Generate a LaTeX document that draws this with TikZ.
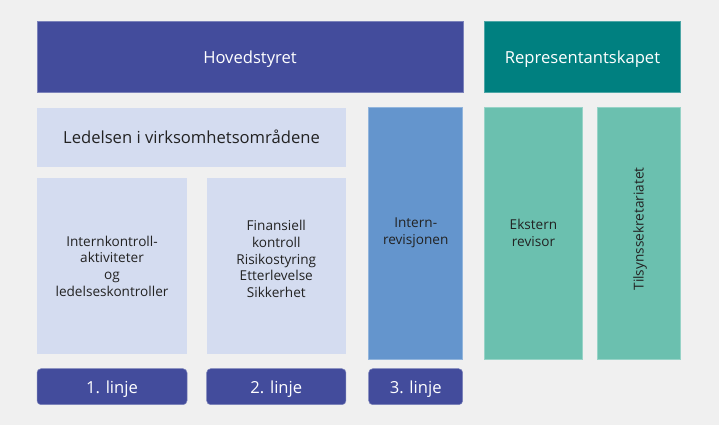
\documentclass[tikz,border=0pt]{standalone}
\usepackage{fontspec}
\setmainfont{Open Sans}
\definecolor{bg}{HTML}{F0F0F0}
\definecolor{navy}{HTML}{434C9C}
\definecolor{teal}{HTML}{008080}
\definecolor{pale}{HTML}{D4DCF0}
\definecolor{midblue}{HTML}{6495CD}
\definecolor{mint}{HTML}{6BC0AF}
\definecolor{ink}{HTML}{222222}
\tikzset{
  box/.style={rectangle, inner sep=0pt, outer sep=0pt, align=center},
  big/.style={font=\fontsize{16.6}{19.5}\selectfont, text height=13pt, text depth=0pt},
  small/.style={font=\fontsize{13.6}{16.6}\selectfont},
  darkbox/.style={box, fill=navy, text=white, draw=navy!70!white, line width=0.5pt},
  tealbox/.style={box, fill=teal, text=white, draw=teal!70!white, line width=0.5pt},
  palebox/.style={box, fill=pale, text=ink},
  bluebox/.style={box, fill=midblue, text=ink, draw=midblue!70!white, line width=0.5pt},
  mintbox/.style={box, fill=mint, text=ink, draw=mint!70!white, line width=0.5pt},
  linjebox/.style={box, fill=navy, text=white, draw=navy!70!white, line width=0.5pt, rounded corners=4pt, big},
}
\begin{document}
\begin{tikzpicture}[x=1pt,y=-1pt]
\fill[bg] (0,0) rectangle (719,425);
\useasboundingbox (0,0) rectangle (719,425);
\node[darkbox, big, minimum width=426pt, minimum height=71pt] (hoved) at (250,56.7) {Hovedstyret};
\node[tealbox, big, minimum width=196.4pt, minimum height=70.6pt] (repr) at (582.5,57) {Representantskapet};
\node[palebox, big, minimum width=309pt, minimum height=59pt] (ledelsen) at (191.5,137.2) {Ledelsen i virksomhetsområdene};
\node[palebox, small, minimum width=150pt, minimum height=176pt] (l1box) at (112,266) {Internkontroll-\\aktiviteter\\og\\ledelseskontroller};
\node[palebox, minimum width=139.3pt, minimum height=176pt] (l2box) at (276.3,266.2) {};
\node[small, text=ink, align=center, inner sep=0pt] (l2text) at (276.3,259) {Finansiell\\kontroll\\Risikostyring\\Etterlevelse\\Sikkerhet};
\node[bluebox, small, minimum width=94pt, minimum height=251.5pt] (intern) at (415.7,233) {Intern-\\revisjonen};
\node[mintbox, small, minimum width=98.4pt, minimum height=251.5pt] (ekstern) at (533.5,233) {Ekstern\\revisor};
\node[mintbox, minimum width=83.4pt, minimum height=251.5pt] (tilsyn) at (639,233) {};
\node[small, text=ink, rotate=90, inner sep=0pt] (tilsyntext) at (640,229) {Tilsynssekretariatet};
\node[linjebox, minimum width=150pt, minimum height=36pt] (linje1) at (112,386.7) {1. linje};
\node[linjebox, minimum width=139.3pt, minimum height=36pt] (linje2) at (276.3,386.7) {2. linje};
\node[linjebox, minimum width=94pt, minimum height=36pt] (linje3) at (415.7,386.7) {3. linje};
\end{tikzpicture}
\end{document}
